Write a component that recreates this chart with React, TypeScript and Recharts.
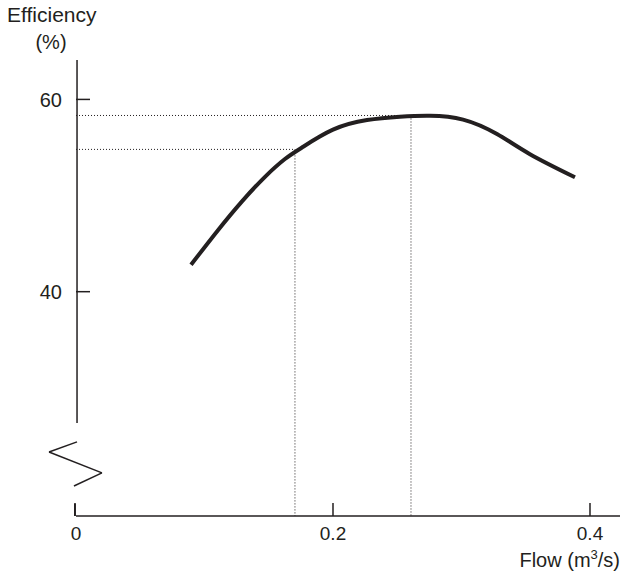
import { LineChart, Line, XAxis, YAxis, ReferenceLine, Customized } from "recharts"

const flow = [0.0895, 0.1105, 0.1292, 0.1471, 0.1626, 0.1759, 0.2, 0.2265, 0.2521, 0.2755, 0.3012, 0.3276, 0.3533, 0.3883]
const efficiency = [42.8, 46.4, 49.4, 51.95, 53.8, 55.0, 56.85, 57.85, 58.2, 58.3, 57.9, 56.4, 54.3, 51.9]
const xTicks = [0, 0.2, 0.4]
const yTicks = [40, 60]
// operating points marked with dotted guides
const guides = [
  { flow: 0.1704, eff: 54.8 },
  { flow: 0.2607, eff: 58.33 },
]

const data = flow.map((f, i) => ({ flow: f, eff: efficiency[i] }))

const INK = "#231f20"
const FONT = "'Liberation Sans', Arial, sans-serif"
const X_MAX = 0.42335
const Y_MIN = 16.667
const Y_MAX = 64.1

function Titles() {
  return (
    <g fontFamily={FONT} fill={INK}>
      <text x={7} y={22} fontSize={21}>Efficiency</text>
      <text x={51} y={49} fontSize={20} textAnchor="middle">(%)</text>
      <text x={620} y={567} fontSize={20} textAnchor="end">
        Flow (m<tspan fontSize={13} dy={-8}>3</tspan><tspan dy={8}>/s)</tspan>
      </text>
    </g>
  )
}

export default function App() {
  const seg = (x1: number, y1: number, x2: number, y2: number, k: string, w = 1.5) => (
    <ReferenceLine
      key={k}
      segment={[{ x: x1, y: y1 }, { x: x2, y: y2 }]}
      stroke={INK}
      strokeWidth={w}
      ifOverflow="visible"
    />
  )
  return (
    <div style={{ position: "absolute", left: 0, top: 0 }}>
      <LineChart width={622} height={576} data={data} margin={{ top: 60, right: 2, bottom: 0, left: 0 }}>
        <XAxis
          type="number"
          dataKey="flow"
          domain={[0, X_MAX]}
          ticks={xTicks}
          tickFormatter={(v: number) => (v === 0 ? "0" : v.toFixed(1))}
          height={60}
          tickSize={0}
          tickMargin={11}
          axisLine={{ stroke: INK, strokeWidth: 1.5 }}
          tickLine={false}
          tick={{ fill: INK, fontSize: 19, fontFamily: FONT }}
        />
        <YAxis
          type="number"
          domain={[Y_MIN, Y_MAX]}
          ticks={yTicks}
          width={76}
          tickSize={0}
          tickMargin={14}
          axisLine={false}
          tickLine={false}
          tick={{ fill: INK, fontSize: 20, fontFamily: FONT }}
        />
        {/* axis with break */}
        {seg(0.0008, Y_MAX, 0.0008, 26.35, "ya")}
        {seg(0.0008, 24.38, -0.021, 23.33, "z1")}
        {seg(-0.021, 23.33, 0.0202, 21.15, "z2")}
        {seg(0.0202, 21.15, -0.0016, 19.79, "z3")}
        {seg(-0.0008, 18.0, -0.0008, Y_MIN, "yb", 2)}
        {yTicks.map((t) => seg(0, t, 0.0109, t, "yt" + t))}
        {xTicks.filter((t) => t > 0).map((t) => seg(t, Y_MIN, t, 18.02, "xt" + t))}
        {guides.map((g, i) => (
          <ReferenceLine
            key={"gh" + i}
            segment={[{ x: 0, y: g.eff }, { x: g.flow, y: g.eff }]}
            stroke={INK}
            strokeWidth={1}
            strokeDasharray="1 2"
            ifOverflow="visible"
          />
        ))}
        {guides.map((g, i) => (
          <ReferenceLine
            key={"gv" + i}
            segment={[{ x: g.flow, y: g.eff }, { x: g.flow, y: Y_MIN }]}
            stroke={INK}
            strokeWidth={1}
            strokeDasharray="1 2"
            ifOverflow="visible"
          />
        ))}
        <Line
          type="natural"
          dataKey="eff"
          stroke={INK}
          strokeWidth={4}
          dot={false}
          activeDot={false}
          isAnimationActive={false}
        />
        <Customized component={Titles} />
      </LineChart>
    </div>
  )
}
